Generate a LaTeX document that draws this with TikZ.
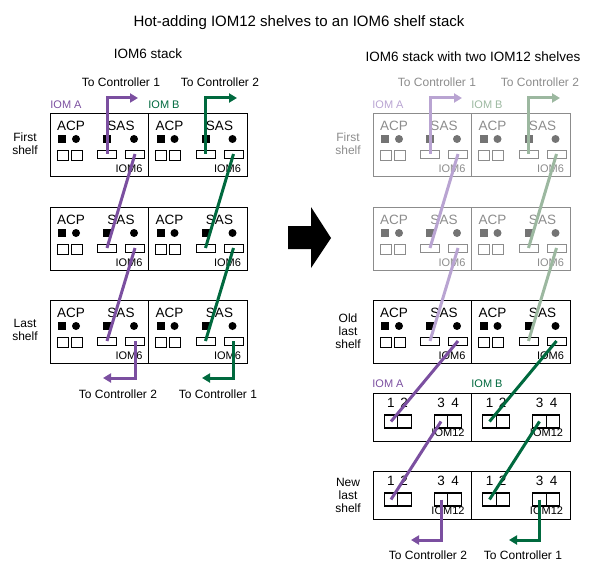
\documentclass[tikz,border=0pt]{standalone}
\usepackage{fontspec}
\setmainfont{Liberation Sans}
\usepackage{xcolor}
\usetikzlibrary{arrows.meta}
\definecolor{iompurple}{HTML}{7B4FA0}
\definecolor{iomgreen}{HTML}{00693E}
\definecolor{fadepurple}{HTML}{B9A4D2}
\definecolor{fadegreen}{HTML}{9CB8A0}
\definecolor{fadeline}{HTML}{8C8C8C}
\definecolor{fadefill}{HTML}{747474}
\tikzstyle{lbl}=[inner sep=0pt,outer sep=0pt,align=center,font=\fontsize{12}{13}\selectfont]
\tikzstyle{big}=[font=\fontsize{13.5}{14}\selectfont]
\tikzstyle{tag}=[font=\fontsize{11}{12}\selectfont]
\tikzstyle{modbox}=[draw,line width=.8pt,inner sep=0pt,outer sep=0pt]
\tikzstyle{portbox}=[draw,line width=1.2pt,inner sep=0pt,outer sep=0pt]
\tikzstyle{led}=[inner sep=0pt,outer sep=0pt,minimum size=8pt]
\tikzstyle{cbl}=[line width=3pt,line join=miter,-{Triangle[length=8pt,width=9pt]}]
\tikzstyle{jmp}=[line width=3pt]
\newcommand\iomsix[5]{%
	\begin{scope}[shift={(#2,#3)},every node/.append style={text=#4}]
		\node[modbox,draw=#4,minimum width=98.5pt,minimum height=63pt,anchor=north west] (#1) at (0,0) {};
		\node[lbl,big] at (21,13) {ACP};
		\node[lbl,big] at (71,13) {SAS};
		\node[lbl,tag] at (79,56) {IOM6};
		\node[led,fill=#5] at (12,26) {};
		\node[led,fill=#5,circle] at (26,26) {};
		\node[led,fill=#5] at (57,26) {};
		\node[led,fill=#5,circle] at (84,26) {};
		\foreach \px in {12.5,26.5}
			\node[modbox,draw=#4,minimum width=11pt,minimum height=10pt] at (\px,42) {};
		\node[modbox,draw=#4,minimum width=19pt,minimum height=8pt] (#1-s1) at (57,41) {};
		\node[modbox,draw=#4,minimum width=19pt,minimum height=8pt] (#1-s2) at (85,41) {};
	\end{scope}}
\newcommand\iomtw[3]{%
	\begin{scope}[shift={(#2,#3)}]
		\node[modbox,minimum width=98.5pt,minimum height=48pt,anchor=north west] (#1) at (0,0) {};
		\node[portbox,minimum width=13.5pt,minimum height=13pt] (#1-p1) at (18,28.5) {};
		\node[portbox,minimum width=13.5pt,minimum height=13pt] at (31.5,28.5) {};
		\node[portbox,minimum width=13.5pt,minimum height=13pt] (#1-p3) at (68,28.5) {};
		\node[portbox,minimum width=13.5pt,minimum height=13pt] at (81.5,28.5) {};
		\node[lbl,big] at (18,9.5) {1};
		\node[lbl,big] at (31,9.5) {2};
		\node[lbl,big] at (68,9.5) {3};
		\node[lbl,big] at (82,9.5) {4};
		\node[lbl,tag] at (75,40) {IOM12};
	\end{scope}}

\begin{document}
\begin{tikzpicture}[x=1pt,y=-1pt]
	\useasboundingbox (0,0) rectangle (592,575);

	\node[lbl,font=\fontsize{15}{16}\selectfont] (title) at (299,22.5) {Hot-adding IOM12 shelves to an IOM6 shelf stack};
	\node[lbl,big] (lefthead) at (148,53.5) {IOM6 stack};
	\node[lbl,big] (righthead) at (473,57) {IOM6 stack with two IOM12 shelves};

	\foreach \nm/\yy in {la/113,lb/207,lc/300} {
		\iomsix{\nm a}{50}{\yy}{black}{black}
		\iomsix{\nm b}{148.5}{\yy}{black}{black}
	}
	\foreach \nm/\yy in {ra/113,rb/207} {
		\iomsix{\nm a}{373}{\yy}{fadeline}{fadefill}
		\iomsix{\nm b}{471.5}{\yy}{fadeline}{fadefill}
	}
	\iomsix{rca}{373}{300}{black}{black}
	\iomsix{rcb}{471.5}{300}{black}{black}
	\iomtw{rda}{373}{393}
	\iomtw{rdb}{471.5}{393}
	\iomtw{rea}{373}{471}
	\iomtw{reb}{471.5}{471}

	\node[lbl] (lto1) at (121,82) {To Controller 1};
	\node[lbl] (lto2) at (220,82) {To Controller 2};
	\node[lbl,tag,text=iompurple] (liomA) at (66,105) {IOM A};
	\node[lbl,tag,text=iomgreen] (liomB) at (164,105) {IOM B};
	\node[lbl] (lfirst) at (25,144) {First\\shelf};
	\node[lbl] (llast) at (25,330) {Last\\shelf};
	\node[lbl] (lbo2) at (118,394) {To Controller 2};
	\node[lbl] (lbo1) at (218,394) {To Controller 1};

	\node[lbl,text=fadeline] (rto1) at (437,82) {To Controller 1};
	\node[lbl,text=fadeline] (rto2) at (540,82) {To Controller 2};
	\node[lbl,tag,text=fadepurple] (riomA) at (388,105) {IOM A};
	\node[lbl,tag,text=fadegreen] (riomB) at (487,105) {IOM B};
	\node[lbl,text=fadeline] (rfirst) at (348,144) {First\\shelf};
	\node[lbl] (rold) at (348,331) {Old\\last\\shelf};
	\node[lbl,tag,text=iompurple] (riomA2) at (388,384) {IOM A};
	\node[lbl,tag,text=iomgreen] (riomB2) at (487,384) {IOM B};
	\node[lbl] (rnew) at (348,495) {New\\last\\shelf};
	\node[lbl] (rbo2) at (428,555) {To Controller 2};
	\node[lbl] (rbo1) at (523,555) {To Controller 1};

	\coordinate (lup1) at (138,98);
	\coordinate (lup2) at (237,98);
	\coordinate (ldn2) at (103,378);
	\coordinate (ldn1) at (202,378);
	\coordinate (rup1) at (462,98);
	\coordinate (rup2) at (560,98);
	\coordinate (rdn2) at (411,540);
	\coordinate (rdn1) at (509,540);

	\draw[cbl,iompurple] (laa-s1.center) |- (lup1);
	\draw[cbl,iomgreen] (lab-s1.center) |- (lup2);
	\draw[jmp,iompurple] (laa-s2.center) -- (lba-s1.center);
	\draw[jmp,iomgreen] (lab-s2.center) -- (lbb-s1.center);
	\draw[jmp,iompurple] (lba-s2.center) -- (lca-s1.center);
	\draw[jmp,iomgreen] (lbb-s2.center) -- (lcb-s1.center);
	\draw[cbl,iompurple] (lca-s2.center) |- (ldn2);
	\draw[cbl,iomgreen] (lcb-s2.center) |- (ldn1);

	\draw[cbl,fadepurple] (raa-s1.center) |- (rup1);
	\draw[cbl,fadegreen] (rab-s1.center) |- (rup2);
	\draw[jmp,fadepurple] (raa-s2.center) -- (rba-s1.center);
	\draw[jmp,fadegreen] (rab-s2.center) -- (rbb-s1.center);
	\draw[jmp,fadepurple] (rba-s2.center) -- (rca-s1.center);
	\draw[jmp,fadegreen] (rbb-s2.center) -- (rcb-s1.center);
	\draw[jmp,iompurple] (rca-s2.center) -- (rda-p1.center);
	\draw[jmp,iomgreen] (rcb-s2.center) -- (rdb-p1.center);
	\draw[jmp,iompurple] (rda-p3.center) -- (rea-p1.center);
	\draw[jmp,iomgreen] (rdb-p3.center) -- (reb-p1.center);
	\draw[cbl,iompurple] (rea-p3.center) |- (rdn2);
	\draw[cbl,iomgreen] (reb-p3.center) |- (rdn1);

	\fill (288,226) -- (311,226) -- (311,207) -- (331,238) -- (311,268) -- (311,249) -- (288,249) -- cycle;
\end{tikzpicture}
\end{document}
